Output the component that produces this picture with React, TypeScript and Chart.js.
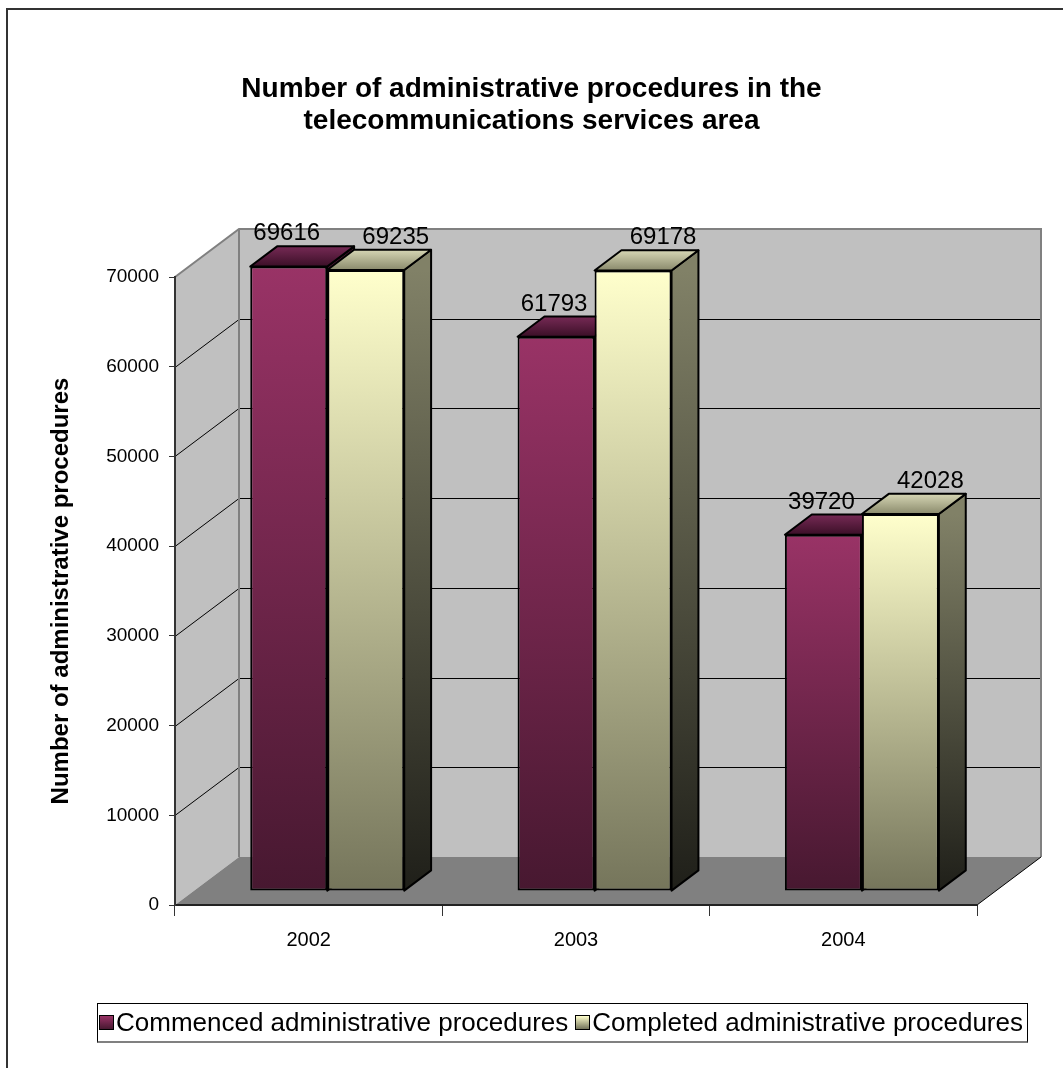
import React, { useEffect, useRef } from "react";
import { Chart, registerables } from "chart.js";

Chart.register(...registerables);

// ---------- data ----------
const categories = ["2002", "2003", "2004"];
const commencedValues = [69616, 61793, 39720];
const completedValues = [69235, 69178, 42028];
const seriesLabels = [
  "Commenced administrative procedures",
  "Completed administrative procedures",
];
const titleLines = [
  "Number of administrative procedures in the",
  "telecommunications services area",
];
const yAxisTitle = "Number of administrative procedures";
const yMin = 0;
const yMax = 70000;
const yStep = 10000;

// ---------- styles ----------
const FONT = '"Liberation Sans", Arial, Helvetica, sans-serif';
const W = 1063;
const H = 1068;
const DEPTH = { x: 64, y: -48 };
const FRONT_FRAC = 0.29;
const BAR_FRAC = 0.42;

const palettes = [
  {
    frontTop: "#993366",
    frontBottom: "#471830",
    sideTop: "#4e1a35",
    sideBottom: "#1e0a14",
    topFront: "#3b0f27",
    topBack: "#762a55",
    labelShift: -2,
  },
  {
    frontTop: "#ffffcc",
    frontBottom: "#75755b",
    sideTop: "#818167",
    sideBottom: "#1f1f19",
    topFront: "#8a8a6c",
    topBack: "#d6d6b4",
    labelShift: 30,
  },
];

function poly(ctx: CanvasRenderingContext2D, p: number[][]) {
  ctx.beginPath();
  ctx.moveTo(p[0][0], p[0][1]);
  for (let i = 1; i < p.length; i++) ctx.lineTo(p[i][0], p[i][1]);
  ctx.closePath();
}

const threeDPlugin = {
  id: "threeD",
  beforeDraw(chart: any) {
    const { ctx, chartArea: a, scales } = chart;
    const ys = scales.y;
    const dx = DEPTH.x;
    const dy = DEPTH.y;
    const L = a.left, R = a.right, T = a.top, B = a.bottom;
    ctx.save();
    // outer frame
    ctx.fillStyle = "#333333";
    ctx.fillRect(6, 8, 2, chart.height - 8);
    ctx.fillRect(6, 8, chart.width - 6, 2);
    // back wall
    ctx.fillStyle = "#c0c0c0";
    ctx.fillRect(L + dx, T + dy, R - L, B - T);
    // side wall
    poly(ctx, [[L, T], [L + dx, T + dy], [L + dx, B + dy], [L, B]]);
    ctx.fill();
    // floor
    ctx.fillStyle = "#808080";
    poly(ctx, [[L, B], [R, B], [R + dx, B + dy], [L + dx, B + dy]]);
    ctx.fill();
    // gridlines on walls
    ctx.strokeStyle = "#000";
    ctx.lineWidth = 1;
    for (const t of ys.ticks) {
      if (t.value <= yMin || t.value >= yMax) continue;
      const py = Math.round(ys.getPixelForValue(t.value)) + 0.5;
      ctx.beginPath();
      ctx.moveTo(L, py);
      ctx.lineTo(L + dx, py + dy);
      ctx.lineTo(R + dx, py + dy);
      ctx.stroke();
    }
    // wall borders
    ctx.strokeStyle = "#808080";
    ctx.lineWidth = 2;
    ctx.beginPath();
    ctx.moveTo(L, T);
    ctx.lineTo(L + dx, T + dy);
    ctx.lineTo(R + dx, T + dy);
    ctx.lineTo(R + dx, B + dy);
    ctx.moveTo(L + dx, T + dy);
    ctx.lineTo(L + dx, B + dy);
    ctx.stroke();
    // floor right edge
    ctx.strokeStyle = "#000";
    ctx.lineWidth = 1;
    ctx.beginPath();
    ctx.moveTo(R, B);
    ctx.lineTo(R + dx, B + dy);
    ctx.stroke();
    ctx.restore();
  },
  beforeDatasetsDraw(chart: any) {
    const { ctx } = chart;
    const fx = DEPTH.x * FRONT_FRAC, fy = DEPTH.y * FRONT_FRAC;
    const bx = DEPTH.x * BAR_FRAC, by = DEPTH.y * BAR_FRAC;
    ctx.save();
    ctx.lineWidth = 2;
    ctx.lineJoin = "round";
    ctx.strokeStyle = "#000";
    for (let i = 0; i < categories.length; i++) {
      for (let d = 0; d < chart.data.datasets.length; d++) {
        const el = chart.getDatasetMeta(d).data[i];
        if (!el) continue;
        const { x, y, base, width } = el.getProps(["x", "y", "base", "width"], true);
        const pal = palettes[d];
        const left = x - width / 2 + fx;
        const right = x + width / 2 + fx;
        const top = y + fy;
        const bottom = base + fy;
        // side face
        let g = ctx.createLinearGradient(0, top, 0, bottom);
        g.addColorStop(0, pal.sideTop);
        g.addColorStop(1, pal.sideBottom);
        ctx.fillStyle = g;
        poly(ctx, [[right, top], [right + bx, top + by], [right + bx, bottom + by], [right, bottom]]);
        ctx.fill();
        ctx.stroke();
        // top face
        g = ctx.createLinearGradient(0, top, 0, top + by);
        g.addColorStop(0, pal.topFront);
        g.addColorStop(1, pal.topBack);
        ctx.fillStyle = g;
        poly(ctx, [[left, top], [right, top], [right + bx, top + by], [left + bx, top + by]]);
        ctx.fill();
        ctx.stroke();
      }
    }
    ctx.restore();
  },
  beforeDatasetDraw(chart: any) {
    chart.ctx.save();
    chart.ctx.translate(DEPTH.x * FRONT_FRAC, DEPTH.y * FRONT_FRAC);
  },
  afterDatasetDraw(chart: any) {
    chart.ctx.restore();
  },
  afterDatasetsDraw(chart: any) {
    const { ctx } = chart;
    const fx = DEPTH.x * FRONT_FRAC;
    ctx.save();
    ctx.font = `24px ${FONT}`;
    ctx.fillStyle = "#000";
    ctx.textAlign = "center";
    ctx.textBaseline = "alphabetic";
    chart.data.datasets.forEach((ds: any, d: number) => {
      chart.getDatasetMeta(d).data.forEach((el: any, i: number) => {
        const { x, y } = el.getProps(["x", "y"], true);
        ctx.fillText(String(ds.data[i]), x + fx + palettes[d].labelShift, y - 40);
      });
    });
    ctx.restore();
  },
};

function frontGradient(d: number) {
  return (c: any) => {
    const chart = c.chart;
    const pal = palettes[d];
    if (!chart.chartArea || c.type !== "data" || !chart.scales.y) return pal.frontTop;
    const ys = chart.scales.y;
    const top = ys.getPixelForValue(c.raw);
    const bottom = ys.getPixelForValue(0);
    const g = chart.ctx.createLinearGradient(0, top, 0, bottom);
    g.addColorStop(0, pal.frontTop);
    g.addColorStop(1, pal.frontBottom);
    return g;
  };
}

export default function App() {
  const ref = useRef<HTMLCanvasElement | null>(null);

  useEffect(() => {
    if (!ref.current) return;
    Chart.defaults.font.family = FONT;
    const chart = new Chart(ref.current, {
      type: "bar",
      data: {
        labels: categories,
        datasets: [
          {
            label: seriesLabels[0],
            data: commencedValues,
            backgroundColor: frontGradient(0),
            borderColor: "#000",
            borderWidth: 2,
            borderSkipped: false,
            categoryPercentage: 0.576,
            barPercentage: 1,
            clip: false,
          },
          {
            label: seriesLabels[1],
            data: completedValues,
            backgroundColor: frontGradient(1),
            borderColor: "#000",
            borderWidth: 2,
            borderSkipped: false,
            categoryPercentage: 0.576,
            barPercentage: 1,
            clip: false,
          },
        ] as any,
      },
      options: {
        responsive: false,
        animation: false,
        devicePixelRatio: 1,
        layout: { padding: 0 },
        plugins: {
          legend: { display: false },
          tooltip: { enabled: false },
          title: {
            display: true,
            text: titleLines,
            color: "#000",
            font: { size: 28, weight: "bold", family: FONT, lineHeight: 1.15 },
            padding: { top: 73, bottom: 139.6 },
          },
        },
        scales: {
          x: {
            type: "category",
            offset: true,
            grid: { offset: true, drawOnChartArea: false, tickLength: 11, color: "#333" },
            border: { display: true, color: "#222", width: 2 },
            ticks: { color: "#000", font: { size: 20, family: FONT }, padding: 12 },
            afterFit: (s: any) => {
              s.height = H - 905;
            },
          },
          y: {
            min: yMin,
            max: yMax,
            ticks: {
              stepSize: yStep,
              color: "#000",
              font: { size: 19, family: FONT },
              padding: 10,
              callback: (v: any) => String(v),
            },
            grid: { drawOnChartArea: false, tickLength: 6, color: "#333" },
            border: { display: true, color: "#333", width: 2 },
            title: {
              display: true,
              text: yAxisTitle,
              color: "#000",
              font: { size: 24, weight: "bold", family: FONT },
              padding: { top: 47, bottom: 0 },
            },
            afterFit: (s: any) => {
              s.width = 175;
            },
          },
          yRight: {
            position: "right",
            display: true,
            grid: { display: false, drawTicks: false },
            ticks: { display: false },
            border: { display: false },
            afterFit: (s: any) => {
              s.width = W - 977;
            },
          },
        } as any,
      },
      plugins: [threeDPlugin],
    });
    return () => chart.destroy();
  }, []);

  const swatches = [
    `linear-gradient(to bottom, ${palettes[0].frontTop}, ${palettes[0].frontBottom})`,
    `linear-gradient(to bottom, ${palettes[1].frontTop}, ${palettes[1].frontBottom})`,
  ];

  return (
    <div
      style={{
        position: "fixed",
        left: 0,
        top: 0,
        width: W,
        height: H,
        background: "#fff",
        overflow: "hidden",
      }}
    >
      <canvas ref={ref} width={W} height={H} style={{ display: "block" }} />
      <div
        style={{
          position: "absolute",
          left: 97,
          top: 1003,
          width: 931,
          height: 40,
          boxSizing: "border-box",
          border: "1px solid #000",
          borderBottom: "2px solid #808080",
          display: "flex",
          alignItems: "center",
          fontFamily: FONT,
          fontSize: 26,
          color: "#000",
          whiteSpace: "nowrap",
          paddingLeft: 1,
        }}
      >
        {seriesLabels.map((label, i) => (
          <span
            key={label}
            style={{ display: "inline-flex", alignItems: "center", marginLeft: i ? 7 : 0 }}
          >
            <span
              style={{
                display: "inline-block",
                width: 13,
                height: 13,
                border: "1px solid #000",
                background: swatches[i],
                marginRight: 2,
              }}
            />
            <span>{label}</span>
          </span>
        ))}
      </div>
    </div>
  );
}
